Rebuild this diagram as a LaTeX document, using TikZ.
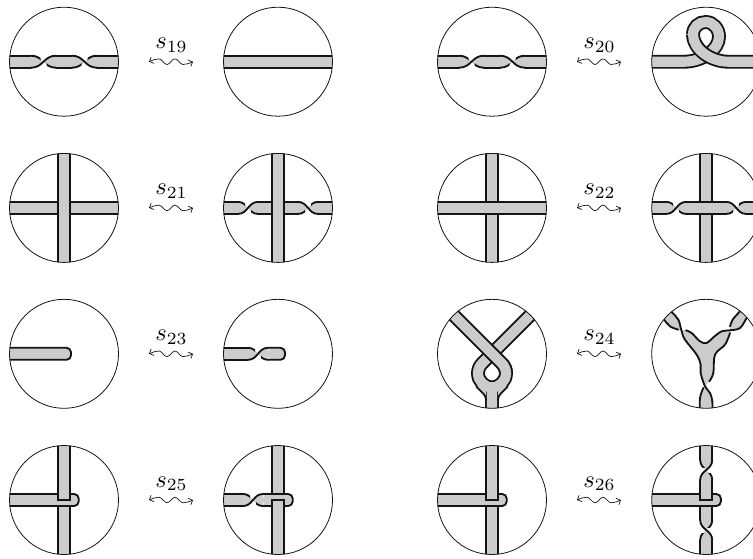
\documentclass[tikz,border=0pt]{standalone}
\usetikzlibrary{arrows.meta}
\definecolor{bandgray}{HTML}{CCCCCC}
\definecolor{edgeink}{HTML}{141414}
\tikzset{
  edgeline/.style={draw=edgeink,line width=1.85pt,line cap=round},
  bandfill/.style={fill=bandgray},
  strandout/.style={draw=edgeink,line width=13.85pt,line cap=butt},
  strandin/.style={draw=bandgray,line width=10.15pt,line cap=butt},
  rim/.style={draw=edgeink,line width=.8pt},
  rellabel/.style={anchor=base,inner sep=0pt,scale=2.45},
  wave/.style={draw=edgeink,line width=.7pt,{Straight Barb[length=3.4pt,width=7pt]}-{Straight Barb[length=3.4pt,width=7pt]}}
}
% one diagram: centre, contents clipped to the disk
\newcommand\diskcell[3]{%
  \begin{scope}[shift={(#1,#2)}]
    \begin{scope}
      \clip (0,0) circle[radius=54.5pt];
      #3
    \end{scope}
    \draw[rim] (0,0) circle[radius=54.5pt];
  \end{scope}}
\newcommand\hband[2]{%
  \fill[bandfill] (#1,-6) rectangle (#2,6);
  \draw[edgeline] (#1,-6) -- (#2,-6);
  \draw[edgeline] (#1,6) -- (#2,6);}
\newcommand\vband[2]{%
  \fill[bandfill] (-6,#1) rectangle (6,#2);
  \draw[edgeline] (-6,#1) -- (-6,#2);
  \draw[edgeline] (6,#1) -- (6,#2);}
\newcommand\capband[2]{%
  \fill[bandfill,rounded corners=4.5pt] (#1,-6) -- (#2,-6) -- (#2,6) -- (#1,6) -- cycle;
  \draw[edgeline,rounded corners=4.5pt] (#1,-6) -- (#2,-6) -- (#2,6) -- (#1,6);}
% half twist from a to b; t=1: over strand runs +6 -> -6, t=-1: -6 -> +6
\newcommand\twist[3]{%
  \pgfmathsetmacro\tm{(#1+#2)/2}%
  \pgfmathsetmacro\tp{6*#3}%
  \pgfmathsetmacro\tq{-6*#3}%
  \fill[bandfill] (#1,-6) .. controls (\tm,-6) and (\tm,6) .. (#2,6) -- (#2,-6) .. controls (\tm,-6) and (\tm,6) .. (#1,6) -- cycle;
  \begin{scope}
    \clip (#1-1,-10) rectangle (\tm-3,10);
    \draw[edgeline] (#1,\tq) .. controls (\tm,\tq) and (\tm,\tp) .. (#2,\tp);
  \end{scope}
  \begin{scope}
    \clip (\tm+3,-10) rectangle (#2+1,10);
    \draw[edgeline] (#1,\tq) .. controls (\tm,\tq) and (\tm,\tp) .. (#2,\tp);
  \end{scope}
  \draw[edgeline] (#1,\tp) .. controls (\tm,\tp) and (\tm,\tq) .. (#2,\tq);}
\tikzset{vertical/.style={cm={0,-1,-1,0,(0,0)}}}
% relation label and wavy double arrow
\newcommand\relmark[3]{%
  \node[rellabel] (lab#3) at (#1+107.5,#2-13) {$s_{#3}$};
  \coordinate (wa#3) at (#1+85,#2);
  \coordinate (wb#3) at (#1+129,#2);
  \draw[wave] (wa#3) sin ++(10,-2.8) cos ++(4,2.8) sin ++(4,2.8) cos ++(4,-2.8) sin ++(4,-2.8) cos ++(4,2.8) sin ++(4,2.8) cos (wb#3);}
\begin{document}
\begin{tikzpicture}[x=1pt,y=-1pt]
\useasboundingbox (0,0) rectangle (753,558);
\clip (0,0) rectangle (753,558);

% ---- row 1
\diskcell{64}{61.7}{\hband{-60}{-33}\twist{-33}{-8}{1}\hband{-8}{8}\twist{8}{33}{-1}\hband{33}{60}}
\relmark{64}{61.7}{19}
\diskcell{278}{61.7}{\hband{-60}{60}}
\diskcell{492}{61.7}{\hband{-60}{-33}\twist{-33}{-8}{1}\hband{-8}{8}\twist{8}{33}{-1}\hband{33}{60}}
\relmark{492}{61.7}{20}
\diskcell{706.2}{61.7}{%
  \draw[strandout] (-60,0) -- (-22,0) .. controls (-4,0) and (12.8,-12) .. (12.8,-25) .. controls (12.8,-33) and (7,-39.7) .. (-0.5,-39.7) .. controls (-7.5,-39.7) and (-13.2,-34.5) .. (-13.2,-27);
  \draw[strandin] (-60,0) -- (-22,0) .. controls (-4,0) and (12.8,-12) .. (12.8,-25) .. controls (12.8,-33) and (7,-39.7) .. (-0.5,-39.7) .. controls (-7.5,-39.7) and (-13.2,-34.5) .. (-13.2,-27);
  \draw[strandout] (-13.2,-27.5) .. controls (-13,-12) and (5,0) .. (22,0) -- (60,0);
  \draw[strandin] (-13.2,-28.5) -- (-13.2,-27) .. controls (-13,-12) and (5,0) .. (22,0) -- (60,0);
}

% ---- row 2
\diskcell{64}{207.9}{\hband{-60}{60}\vband{-60}{60}}
\relmark{64}{207.9}{21}
\diskcell{278}{207.9}{\hband{-60}{-40}\twist{-40}{-20}{1}\hband{-20}{20}\twist{20}{40}{-1}\hband{40}{60}\vband{-60}{60}}
\diskcell{492}{207.9}{\vband{-60}{60}\hband{-60}{60}}
\relmark{492}{207.9}{22}
\diskcell{706.2}{207.9}{\vband{-60}{60}\hband{-60}{-40}\twist{-40}{-20}{1}\hband{-20}{20}\twist{20}{40}{-1}\hband{40}{60}}

% ---- row 3
\diskcell{64}{353.8}{\capband{-60}{7}}
\relmark{64}{353.8}{23}
\diskcell{278}{353.8}{\hband{-60}{-30}\twist{-30}{-10}{1}\capband{-10}{7}}
\diskcell{492}{353.8}{%
  \draw[strandout] (60,-60.3) -- (-9.9,9.6) .. controls (-12.52,12.22) and (-14,15.79) .. (-14,19.5) .. controls (-14,27.23) and (-7.73,33.5) .. (0,33.5) .. controls (7.73,33.5) and (14,27.23) .. (14,19.5) .. controls (14,15.79) and (12.52,12.22) .. (9.9,9.6) (0,33.5) -- (0,60);
  \draw[strandin] (60,-60.3) -- (-9.9,9.6) .. controls (-12.52,12.22) and (-14,15.79) .. (-14,19.5) .. controls (-14,27.23) and (-7.73,33.5) .. (0,33.5) .. controls (7.73,33.5) and (14,27.23) .. (14,19.5) .. controls (14,15.79) and (12.52,12.22) .. (9.9,9.6) (0,33.5) -- (0,60);
  \draw[strandout] (-60,-60.3) -- (9.9,9.6) .. controls (12.52,12.22) and (14,15.79) .. (14,19.5);
  \draw[strandin] (-60,-60.3) -- (9.9,9.6) .. controls (12.52,12.22) and (14,15.79) .. (14,19.5) -- (14,21);
  \fill[bandfill] (-6,46) .. controls (-6,41) and (-10,39) .. (-15.5,33) -- (-6,30) -- cycle;
  \fill[bandfill] (6,46) .. controls (6,41) and (10,39) .. (15.5,33) -- (6,30) -- cycle;
  \draw[edgeline] (-6,46) .. controls (-6,41) and (-10,39) .. (-15.5,33);
  \draw[edgeline] (6,46) .. controls (6,41) and (10,39) .. (15.5,33);
}
\relmark{492}{353.8}{24}
\diskcell{706.2}{353.8}{%
  \begin{scope}[x=.3333pt,y=-.3333pt,shift={(-56.2pt,55.8pt)}]
    \fill[bandfill] plot[smooth,tension=.6] coordinates {(55,30) (65,42) (85,65) (95,100) (105,125) (140,170) (152,200) (152,225) (165,265) (180,285) (187,310) (187,345)}
      -- plot[smooth,tension=.6] coordinates {(150,345) (150,300) (160,270) (178,250) (190,225) (195,170) (225,140) (240,105) (240,85) (248,65) (268,42) (278,30)}
      -- plot[smooth,tension=.6] coordinates {(300,48) (290,60) (270,90) (240,97) (215,100) (190,118) (170,135) (150,130) (125,105) (108,97) (85,95) (60,85) (42,65) (30,55)} -- cycle;
    \draw[edgeline] plot[smooth,tension=.6] coordinates {(55,30) (65,42) (85,65) (95,100) (105,125) (140,170) (152,200) (152,225) (165,265) (180,285) (187,310) (187,345)};
    \draw[edgeline] plot[smooth,tension=.6] coordinates {(240,105) (225,140) (195,170) (190,225) (178,250)};
    \draw[edgeline] plot[smooth,tension=.6] coordinates {(160,270) (150,300) (150,345)};
    \draw[edgeline] plot[smooth,tension=.6] coordinates {(278,30) (268,42) (248,65) (240,85)};
    \draw[edgeline] plot[smooth,tension=.6] coordinates {(30,55) (42,65) (60,85) (85,95)};
    \draw[edgeline] plot[smooth,tension=.6] coordinates {(108,97) (125,105) (150,130) (170,135) (190,118) (215,100) (240,97) (270,90) (290,60) (300,48)};
  \end{scope}
}

% ---- row 4
\diskcell{64}{500}{%
  \vband{6}{60}\capband{-60}{14.7}
  \fill[bandfill] (-6,-60) rectangle (6,0);
  \draw[edgeline] (-6,-60) -- (-6,0) -- (6,0) -- (6,-60);
}
\relmark{64}{500}{25}
\diskcell{278}{500}{%
  \vband{-60}{0}\hband{-60}{-35}\twist{-35}{-15}{1}\capband{-15}{14.7}
  \fill[bandfill] (-6,0) rectangle (6,60);
  \draw[edgeline] (-6,60) -- (-6,0) -- (6,0) -- (6,60);
}
\diskcell{492}{500}{%
  \vband{6}{60}\capband{-60}{14.7}
  \fill[bandfill] (-6,-60) rectangle (6,0);
  \draw[edgeline] (-6,-60) -- (-6,0) -- (6,0) -- (6,-60);
}
\relmark{492}{500}{26}
\diskcell{706.2}{500}{%
  \vband{6}{20}\vband{40}{60}
  \begin{scope}[vertical]\twist{20}{40}{-1}\end{scope}
  \capband{-60}{14.7}
  \vband{-60}{-40}
  \begin{scope}[vertical]\twist{-40}{-20}{1}\end{scope}
  \fill[bandfill] (-6,-20) rectangle (6,0);
  \draw[edgeline] (-6,-20) -- (-6,0) -- (6,0) -- (6,-20);
}
\end{tikzpicture}
\end{document}
